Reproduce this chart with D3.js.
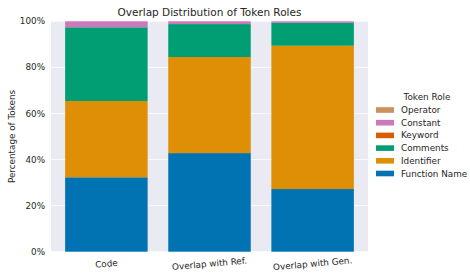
<!DOCTYPE html>
<html><head><meta charset="utf-8">
<script src="https://cdn.jsdelivr.net/npm/d3@7"></script>
<style>body{margin:0;background:#fff}svg{display:block}text{font-family:"DejaVu Sans",sans-serif;fill:#262626}</style>
</head><body><svg id="c" width="470" height="273"></svg>
<script>
const categories = ["Code", "Overlap with Ref.", "Overlap with Gen."];
const roles = ["Function Name", "Identifier", "Comments", "Keyword", "Constant", "Operator"];
const functionName = [32.3, 42.8, 27.2];
const identifier = [33.1, 41.7, 62.2];
const comments = [32.0, 14.3, 9.9];
const keyword = [0, 0, 0];
const constant = [2.6, 1.2, 0.7];
const operator = [0, 0, 0];
const yTicks = [0, 20, 40, 60, 80, 100];
const colors = ["#0173b2", "#de8f05", "#029e73", "#d55e00", "#cc78bc", "#ca9161"];

const seriesVals = [functionName, identifier, comments, keyword, constant, operator];
const table = categories.map((c, i) => {
  const o = {cat: c};
  roles.forEach((r, j) => o[r] = seriesVals[j][i]);
  return o;
});
const stack = d3.stack().keys(roles)(table);

const svg = d3.select("#c");
const L = 51, R = 368, T = 21.3, B = 251.7;
const x = d3.scaleLinear().domain([-0.537, 2.537]).range([L, R]);
const y = d3.scaleLinear().domain([0, 100]).range([B, T]);
const bw = 0.8;
const fs = 8.8;

svg.append("rect").attr("x", L).attr("y", T).attr("width", R - L).attr("height", B - T).attr("fill", "#eaeaf2");
svg.append("g").selectAll("line").data(yTicks).join("line")
  .attr("x1", L).attr("x2", R).attr("y1", d => y(d)).attr("y2", d => y(d))
  .attr("stroke", "#fff").attr("stroke-width", 0.8);

svg.append("g").selectAll("g").data(stack).join("g")
  .attr("fill", (d, i) => colors[i])
  .selectAll("rect").data(d => d).join("rect")
  .attr("x", (d, i) => x(i - bw / 2))
  .attr("width", (d, i) => x(i + bw / 2) - x(i - bw / 2))
  .attr("y", d => y(d[1]))
  .attr("height", d => y(d[0]) - y(d[1]));

// y ticks
svg.append("g").selectAll("text").data(yTicks).join("text")
  .attr("x", L - 6).attr("y", d => y(d)).attr("dy", "0.35em")
  .attr("text-anchor", "end").attr("font-size", fs).text(d => d + "%");

// x tick labels, slightly rotated
svg.append("g").selectAll("text").data(categories).join("text")
  .attr("transform", (d, i) => `translate(${x(i)},${B + 12}) rotate(-5)`)
  .attr("text-anchor", "middle").attr("dy", "0.35em").attr("font-size", fs).text(d => d);

svg.append("text").attr("transform", `translate(15,${(T + B) / 2}) rotate(-90)`)
  .attr("text-anchor", "middle").attr("font-size", fs).text("Percentage of Tokens");

svg.append("text").attr("x", (L + R) / 2).attr("y", 16).attr("text-anchor", "middle")
  .attr("font-size", 10.5).text("Overlap Distribution of Token Roles");

// legend
const lg = svg.append("g");
lg.append("text").attr("x", 427).attr("y", 96.5).attr("dy", "0.35em").attr("text-anchor", "middle")
  .attr("font-size", fs).text("Token Role");
const legendOrder = roles.map((r, i) => i).reverse();
legendOrder.forEach((ri, k) => {
  const yy = 110 + k * 12.7;
  lg.append("rect").attr("x", 376).attr("y", yy - 2.8).attr("width", 18).attr("height", 5.6).attr("fill", colors[ri]);
  lg.append("text").attr("x", 401).attr("y", yy).attr("dy", "0.35em").attr("font-size", fs).text(roles[ri]);
});
</script></body></html>
